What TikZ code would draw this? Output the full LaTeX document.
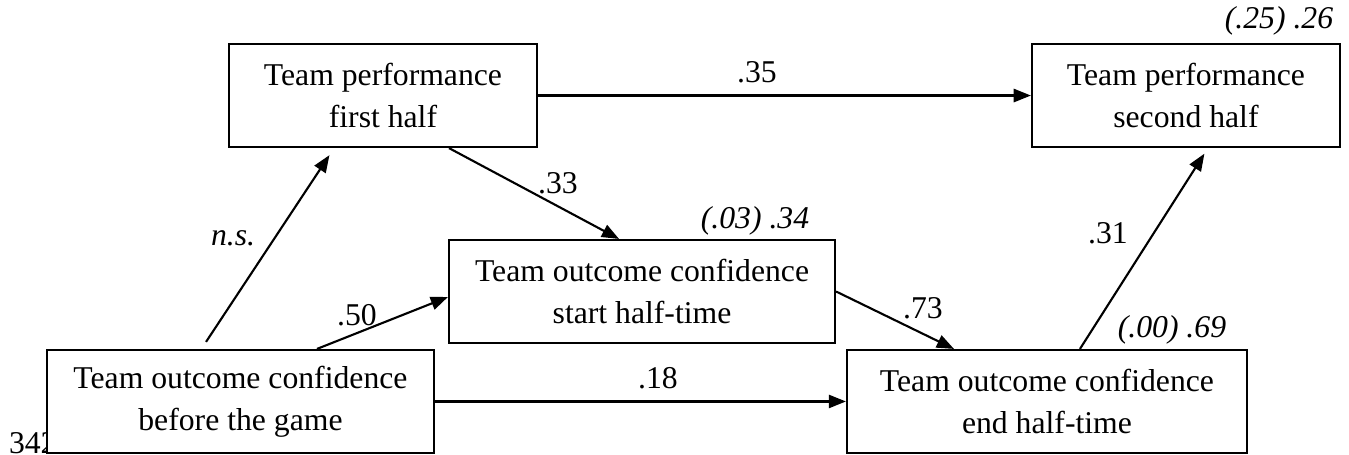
\documentclass[tikz,border=0pt]{standalone}
\usepackage{fontspec}
\setmainfont{Liberation Serif}
\usetikzlibrary{arrows.meta}

\tikzset{
  var/.style={draw, fill=white, align=center, inner sep=0pt, minimum height=1.37cm},
  coef/.style={inner sep=0pt},
  rsq/.style={inner sep=0pt, font=\fontsize{12}{15}\selectfont\itshape},
}

\begin{document}
\begin{tikzpicture}[>={Triangle[length=6.5pt,width=5pt]}, line width=0.8pt, font=\fontsize{12}{16}\selectfont]
\useasboundingbox (0,0) rectangle (17.946,6.053);
\node[anchor=base west, inner sep=0pt] (lineno) at (0.106,0.02) {342};

\node[var, minimum width=4.097cm] (pf) at (5.095,4.782) {Team performance\\first half};
\node[var, minimum width=4.097cm] (ps) at (15.777,4.782) {Team performance\\second half};
\node[var, minimum width=5.135cm] (cs) at (8.541,2.175) {Team outcome confidence\\start half-time};
\node[var, minimum width=5.148cm] (cb) at (3.199,0.712) {Team outcome confidence\\before the game};
\node[var, minimum width=5.321cm] (ce) at (13.928,0.712) {Team outcome confidence\\end half-time};

\draw[->] (pf.east) -- (ps.west);
\draw[->] ([xshift=0.878cm]pf.south) -- ([xshift=-0.306cm]cs.north);
\draw[->, shorten <=3.2pt, shorten >=3.2pt] ([xshift=-0.52cm]cb.north) -- ([xshift=-0.65cm]pf.south);
\draw[->] ([xshift=1.018cm]cb.north) -- ([yshift=-0.073cm]cs.west);
\draw[->] (cs.east) -- ([xshift=-1.237cm]ce.north);
\draw[->] (cb.east) -- (ce.west);
\draw[->, shorten >=2.5pt] ([xshift=0.439cm]ce.north) -- ([xshift=0.293cm]ps.south);

% path coefficients
\node[coef] (b35) at (10.070,5.095) {.35};
\node[coef] (b33) at (7.423,3.618) {.33};
\node[rsq] (bns) at (3.100,2.887) {n.s.};
\node[coef] (b50) at (4.749,1.862) {.50};
\node[coef] (b73) at (12.279,1.956) {.73};
\node[coef] (b18) at (8.753,1.024) {.18};
\node[coef] (b31) at (14.740,2.953) {.31};

% explained variance
\node[rsq] (r2ps) at (17.015,5.773) {(.25) .26};
\node[rsq] (r2cs) at (10.044,3.113) {(.03) .34};
\node[rsq] (r2ce) at (15.591,1.663) {(.00) .69};
\end{tikzpicture}
\end{document}
